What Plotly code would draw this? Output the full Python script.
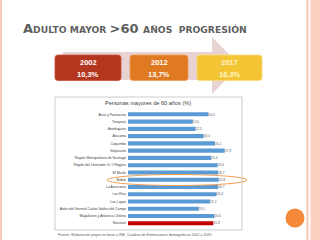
import plotly.graph_objects as go

# ---- data ----
regions = ["Arica y Parinacota", "Tarapacá", "Antofagasta", "Atacama", "Coquimbo",
           "Valparaíso", "Región Metropolitana de Santiago",
           "Región del Libertador G. O'Higgins", "El Maule", "Biobío", "La Araucanía",
           "Los Ríos", "Los Lagos", "Aisén del General Carlos Ibáñez del Campo",
           "Magallanes y Antártica Chilena", "Nacional"]
values = [14.9, 12.0, 12.5, 14.0, 16.1, 17.9, 15.4, 16.6, 16.7, 16.8, 16.7, 16.4,
          15.2, 13.1, 16.0, 15.8]
years = ["2002", "2012", "2017"]
shares = ["10,3%", "13,7%", "16,3%"]

W, H = 320, 240


def px(x):
    return x / W


def py(y):
    return 1 - y / H


def rrect(x0, y0, x1, y1, r=3):
    pts = [
        ("M", x0 + r, y0), ("L", x1 - r, y0), ("Q", x1, y0, x1, y0 + r),
        ("L", x1, y1 - r), ("Q", x1, y1, x1 - r, y1), ("L", x0 + r, y1),
        ("Q", x0, y1, x0, y1 - r), ("L", x0, y0 + r), ("Q", x0, y0, x0 + r, y0),
    ]
    s = ""
    for p in pts:
        if p[0] == "Q":
            s += f"Q{px(p[1]):.5f},{py(p[2]):.5f} {px(p[3]):.5f},{py(p[4]):.5f} "
        else:
            s += f"{p[0]}{px(p[1]):.5f},{py(p[2]):.5f} "
    return s + "Z"


def poly(points):
    s = "M" + " L".join(f"{px(x):.5f},{py(y):.5f}" for x, y in points)
    return s + " Z"


bar_colors = ["#5B9BD5"] * (len(regions) - 1) + ["#C00000"]
labels = [f"{v:.1f}".replace(".", ",") for v in values]

fig = go.Figure(go.Bar(
    x=values, y=regions, orientation="h", width=0.56,
    marker=dict(color=bar_colors, line=dict(width=0)),
    text=labels, textposition="outside", cliponaxis=False,
    textfont=dict(size=4, color="#595959", family="Liberation Sans"),
    hoverinfo="skip",
))

shapes = []
# page borders
shapes.append(dict(type="rect", xref="paper", yref="paper", x0=0, x1=px(2), y0=0, y1=1,
                   fillcolor="#F8C9B8", line=dict(width=0), layer="below"))
shapes.append(dict(type="rect", xref="paper", yref="paper", x0=px(306.5), x1=px(308.5), y0=0, y1=1,
                   fillcolor="#F7C6B4", line=dict(width=0), layer="below"))
shapes.append(dict(type="rect", xref="paper", yref="paper", x0=px(310.5), x1=1, y0=0, y1=1,
                   fillcolor="#FAD0C0", line=dict(width=0), layer="below"))
shapes.append(dict(type="circle", xref="paper", yref="paper", x0=px(285.5), x1=px(304.5),
                   y0=py(227.5), y1=py(208.5), fillcolor="#F5893A", line=dict(width=0)))
# arrow
shapes.append(dict(type="path", xref="paper", yref="paper",
                   path=poly([(63, 52), (212, 52), (212, 37), (240, 65.5), (212, 94), (212, 80), (63, 80)]),
                   fillcolor="#E9D2D2", line=dict(width=0), layer="below"))
# year boxes
box_x = [(55, 121), (130, 188), (197, 262)]
box_fill = ["#B5361E", "#E07A22", "#F3C535"]
box_line = ["#C4503A", "#EC9A50", "#F8DA78"]
for (x0, x1), f, l in zip(box_x, box_fill, box_line):
    shapes.append(dict(type="path", xref="paper", yref="paper", path=rrect(x0, 55, x1, 80.5),
                       fillcolor=f, line=dict(color=l, width=0.8), layer="below"))
# chart panel
shapes.append(dict(type="rect", xref="paper", yref="paper", x0=px(55), x1=px(242),
                   y0=py(230), y1=py(97), fillcolor="white",
                   line=dict(color="#BFBFBF", width=0.8), layer="below"))
# highlight ellipse
shapes.append(dict(type="circle", xref="paper", yref="paper", x0=px(107), x1=px(247),
                   y0=py(185.5), y1=py(174.5), line=dict(color="#F0A058", width=1)))

annotations = []
big = 13
title_html = (f'<b><span style="font-size:{big}px">A</span>DULTO MAYOR '
              f'<span style="font-size:{big}px">&gt;60 </span>AÑOS&nbsp;&nbsp;PROGRESIÓN</b>')
annotations.append(dict(text=title_html, xref="paper", yref="paper", x=px(20.5), y=py(28),
                        xanchor="left", yanchor="middle", showarrow=False,
                        font=dict(family="DejaVu Sans", size=9.2, color="#5F5F5F")))
txt_cols = ["#FFFFFF", "#FFFFFF", "#FFF4C8"]
for (x0, x1), yr, sh, tc in zip(box_x, years, shares, txt_cols):
    cx = (x0 + x1) / 2
    annotations.append(dict(text=f"<b>{yr}</b>", xref="paper", yref="paper", x=px(cx), y=py(62.3),
                            xanchor="center", yanchor="middle", showarrow=False,
                            font=dict(family="Liberation Sans", size=7.5, color=tc)))
    annotations.append(dict(text=f"<b>{sh}</b>", xref="paper", yref="paper", x=px(cx), y=py(74),
                            xanchor="center", yanchor="middle", showarrow=False,
                            font=dict(family="Liberation Sans", size=7.5, color=tc)))
annotations.append(dict(text="Personas mayores de 60 años (%)", xref="paper", yref="paper",
                        x=px(148), y=py(103), xanchor="center", yanchor="middle", showarrow=False,
                        font=dict(family="Liberation Sans", size=5.6, color="#404040")))
annotations.append(dict(text="Fuente: Elaboración propia en base a INE, Cuadros de Estimaciones demográficas 2002 a 2020",
                        xref="paper", yref="paper", x=px(56), y=py(234.7), xanchor="left",
                        yanchor="middle", showarrow=False,
                        font=dict(family="Liberation Sans", size=3.6, color="#595959")))

fig.update_layout(
    width=W, height=H, margin=dict(l=0, r=0, t=0, b=0),
    paper_bgcolor="white", plot_bgcolor="rgba(0,0,0,0)", showlegend=False,
    shapes=shapes, annotations=annotations,
    xaxis=dict(domain=[px(128), px(242)], range=[0, 21.1], visible=False, fixedrange=True),
    yaxis=dict(domain=[py(226.9), py(110.7)], autorange="reversed", categoryorder="array",
               categoryarray=regions, showgrid=False, showline=False, zeroline=False, ticks="",
               ticklabelstandoff=1, fixedrange=True,
               tickfont=dict(family="Liberation Sans", size=3.4, color="#404040")),
)

fig.write_html("out.html", config={"displayModeBar": False})
